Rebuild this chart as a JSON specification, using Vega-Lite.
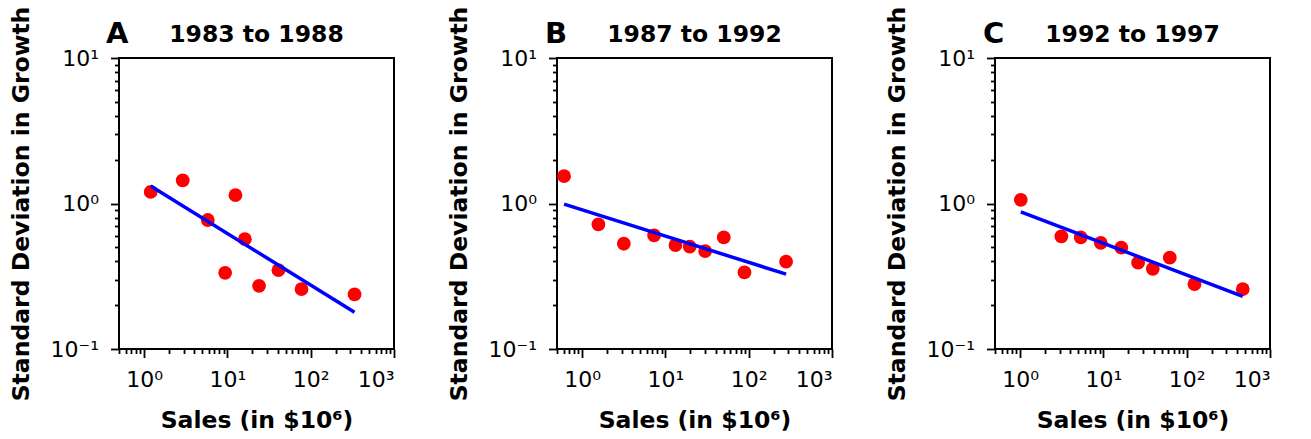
{
  "$schema": "https://vega.github.io/schema/vega-lite/v6.json",
  "background": "white",
  "padding": {"left": 8, "top": 5, "right": 0, "bottom": 0},
  "bounds": "flush",
  "spacing": 163,
  "datasets": {
    "ptsA": [{"sales":1.2,"sd":1.2},{"sales":2.91,"sd":1.44},{"sales":5.82,"sd":0.77},{"sales":9.4,"sd":0.334},{"sales":12.5,"sd":1.14},{"sales":16.2,"sd":0.569},{"sales":24,"sd":0.272},{"sales":41,"sd":0.348},{"sales":77.6,"sd":0.258},{"sales":336,"sd":0.237}],
    "fitA": [{"sales":1.2,"sd":1.32},{"sales":336,"sd":0.179}],
    "ptsB": [{"sales":0.608,"sd":1.54},{"sales":1.57,"sd":0.718},{"sales":3.17,"sd":0.529},{"sales":7.32,"sd":0.603},{"sales":13.2,"sd":0.518},{"sales":19.6,"sd":0.505},{"sales":30,"sd":0.471},{"sales":50.2,"sd":0.585},{"sales":89,"sd":0.336},{"sales":281,"sd":0.398}],
    "fitB": [{"sales":0.608,"sd":0.99},{"sales":281,"sd":0.327}],
    "ptsC": [{"sales":1.02,"sd":1.06},{"sales":3.13,"sd":0.594},{"sales":5.35,"sd":0.585},{"sales":9.3,"sd":0.537},{"sales":16.4,"sd":0.497},{"sales":26.1,"sd":0.392},{"sales":39.2,"sd":0.356},{"sales":62.7,"sd":0.424},{"sales":124,"sd":0.279},{"sales":471,"sd":0.258}],
    "fitC": [{"sales":1.02,"sd":0.877},{"sales":471,"sd":0.23}]
  },
  "hconcat": [
    {
      "width": 275, "height": 291,
      "title": {"text": "1983 to 1988"},
      "resolve": {"axis": {"x": "independent", "y": "independent"}},
      "layer": [
        {"data": {"name": "ptsA"}, "mark": {"type": "circle", "size": 190, "color": "#ff0000", "opacity": 1},
         "encoding": {
           "x": {"field": "sales", "type": "quantitative", "scale": {"type": "log", "domain": [0.5, 1000], "nice": false},
                 "axis": {"orient": "bottom", "values": [1, 10, 100, 1000], "tickSize": 8.5, "labelPadding": 12, "titlePadding": 18, "title": "Sales (in $10⁶)",
                          "labelExpr": "datum.value >= 999 ? '10³' : datum.value >= 99 ? '10²' : datum.value >= 9 ? '10¹' : '10⁰'"}},
           "y": {"field": "sd", "type": "quantitative", "scale": {"type": "log", "domain": [0.1, 10], "nice": false},
                 "axis": {"orient": "left", "values": [0.1, 1, 10], "tickSize": 8.5, "labelPadding": 12, "titlePadding": 17, "title": "Standard Deviation in Growth",
                          "labelExpr": "datum.value >= 9 ? '10¹' : datum.value >= 0.9 ? '10⁰' : '10⁻¹'"}}
         }},
        {"data": {"name": "fitA"}, "mark": {"type": "line", "color": "#0000ff", "strokeWidth": 3.5},
         "encoding": {
           "x": {"field": "sales", "type": "quantitative", "scale": {"type": "log", "domain": [0.5, 1000], "nice": false},
                 "axis": {"orient": "bottom", "values": [0.5,0.6,0.7,0.8,0.9,2,3,4,5,6,7,8,9,20,30,40,50,60,70,80,90,200,300,400,500,600,700,800,900], "tickSize": 4.5, "labels": false, "title": null}},
           "y": {"field": "sd", "type": "quantitative", "scale": {"type": "log", "domain": [0.1, 10], "nice": false},
                 "axis": {"orient": "left", "values": [0.2,0.3,0.4,0.5,0.6,0.7,0.8,0.9,2,3,4,5,6,7,8,9], "tickSize": 4.5, "labels": false, "title": null}}
         }},
        {"data": {"values": [{"panel": "A"}]}, "mark": {"type": "text", "font": "DejaVu Sans", "fontSize": 29, "fontWeight": "bold", "align": "left", "baseline": "alphabetic", "dx": -13, "dy": -15, "color": "black"},
         "encoding": {"x": {"datum": 0.5, "type": "quantitative", "axis": null}, "y": {"datum": 10, "type": "quantitative", "axis": null}, "text": {"field": "panel"}}}
      ]
    },
    {
      "width": 275, "height": 291,
      "title": {"text": "1987 to 1992"},
      "resolve": {"axis": {"x": "independent", "y": "independent"}},
      "layer": [
        {"data": {"name": "ptsB"}, "mark": {"type": "circle", "size": 190, "color": "#ff0000", "opacity": 1},
         "encoding": {
           "x": {"field": "sales", "type": "quantitative", "scale": {"type": "log", "domain": [0.5, 1000], "nice": false},
                 "axis": {"orient": "bottom", "values": [1, 10, 100, 1000], "tickSize": 8.5, "labelPadding": 12, "titlePadding": 18, "title": "Sales (in $10⁶)",
                          "labelExpr": "datum.value >= 999 ? '10³' : datum.value >= 99 ? '10²' : datum.value >= 9 ? '10¹' : '10⁰'"}},
           "y": {"field": "sd", "type": "quantitative", "scale": {"type": "log", "domain": [0.1, 10], "nice": false},
                 "axis": {"orient": "left", "values": [0.1, 1, 10], "tickSize": 8.5, "labelPadding": 12, "titlePadding": 17, "title": "Standard Deviation in Growth",
                          "labelExpr": "datum.value >= 9 ? '10¹' : datum.value >= 0.9 ? '10⁰' : '10⁻¹'"}}
         }},
        {"data": {"name": "fitB"}, "mark": {"type": "line", "color": "#0000ff", "strokeWidth": 3.5},
         "encoding": {
           "x": {"field": "sales", "type": "quantitative", "scale": {"type": "log", "domain": [0.5, 1000], "nice": false},
                 "axis": {"orient": "bottom", "values": [0.5,0.6,0.7,0.8,0.9,2,3,4,5,6,7,8,9,20,30,40,50,60,70,80,90,200,300,400,500,600,700,800,900], "tickSize": 4.5, "labels": false, "title": null}},
           "y": {"field": "sd", "type": "quantitative", "scale": {"type": "log", "domain": [0.1, 10], "nice": false},
                 "axis": {"orient": "left", "values": [0.2,0.3,0.4,0.5,0.6,0.7,0.8,0.9,2,3,4,5,6,7,8,9], "tickSize": 4.5, "labels": false, "title": null}}
         }},
        {"data": {"values": [{"panel": "B"}]}, "mark": {"type": "text", "font": "DejaVu Sans", "fontSize": 29, "fontWeight": "bold", "align": "left", "baseline": "alphabetic", "dx": -12, "dy": -15, "color": "black"},
         "encoding": {"x": {"datum": 0.5, "type": "quantitative", "axis": null}, "y": {"datum": 10, "type": "quantitative", "axis": null}, "text": {"field": "panel"}}}
      ]
    },
    {
      "width": 275, "height": 291,
      "title": {"text": "1992 to 1997"},
      "resolve": {"axis": {"x": "independent", "y": "independent"}},
      "layer": [
        {"data": {"name": "ptsC"}, "mark": {"type": "circle", "size": 190, "color": "#ff0000", "opacity": 1},
         "encoding": {
           "x": {"field": "sales", "type": "quantitative", "scale": {"type": "log", "domain": [0.5, 1000], "nice": false},
                 "axis": {"orient": "bottom", "values": [1, 10, 100, 1000], "tickSize": 8.5, "labelPadding": 12, "titlePadding": 18, "title": "Sales (in $10⁶)",
                          "labelExpr": "datum.value >= 999 ? '10³' : datum.value >= 99 ? '10²' : datum.value >= 9 ? '10¹' : '10⁰'"}},
           "y": {"field": "sd", "type": "quantitative", "scale": {"type": "log", "domain": [0.1, 10], "nice": false},
                 "axis": {"orient": "left", "values": [0.1, 1, 10], "tickSize": 8.5, "labelPadding": 12, "titlePadding": 17, "title": "Standard Deviation in Growth",
                          "labelExpr": "datum.value >= 9 ? '10¹' : datum.value >= 0.9 ? '10⁰' : '10⁻¹'"}}
         }},
        {"data": {"name": "fitC"}, "mark": {"type": "line", "color": "#0000ff", "strokeWidth": 3.5},
         "encoding": {
           "x": {"field": "sales", "type": "quantitative", "scale": {"type": "log", "domain": [0.5, 1000], "nice": false},
                 "axis": {"orient": "bottom", "values": [0.5,0.6,0.7,0.8,0.9,2,3,4,5,6,7,8,9,20,30,40,50,60,70,80,90,200,300,400,500,600,700,800,900], "tickSize": 4.5, "labels": false, "title": null}},
           "y": {"field": "sd", "type": "quantitative", "scale": {"type": "log", "domain": [0.1, 10], "nice": false},
                 "axis": {"orient": "left", "values": [0.2,0.3,0.4,0.5,0.6,0.7,0.8,0.9,2,3,4,5,6,7,8,9], "tickSize": 4.5, "labels": false, "title": null}}
         }},
        {"data": {"values": [{"panel": "C"}]}, "mark": {"type": "text", "font": "DejaVu Sans", "fontSize": 29, "fontWeight": "bold", "align": "left", "baseline": "alphabetic", "dx": -12, "dy": -15, "color": "black"},
         "encoding": {"x": {"datum": 0.5, "type": "quantitative", "axis": null}, "y": {"datum": 10, "type": "quantitative", "axis": null}, "text": {"field": "panel"}}}
      ]
    }
  ],
  "config": {
    "font": "DejaVu Sans",
    "view": {"stroke": "black", "strokeWidth": 2},
    "axis": {"grid": false, "domain": false, "ticks": true, "tickColor": "black", "tickWidth": 1.8,
             "labelFont": "DejaVu Sans", "labelFontSize": 22, "labelColor": "black",
             "titleFont": "DejaVu Sans", "titleFontSize": 23.5, "titleFontWeight": "bold", "titleColor": "black"},
    "title": {"font": "DejaVu Sans", "fontSize": 23.5, "fontWeight": "bold", "color": "black", "offset": -40}
  }
}
